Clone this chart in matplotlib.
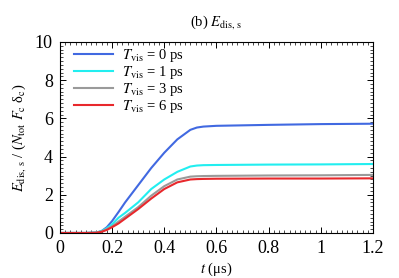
import numpy as np
import matplotlib
matplotlib.use("Agg")
import matplotlib.pyplot as plt
from matplotlib.ticker import MultipleLocator

plt.rcParams['font.family'] = 'serif'
plt.rcParams['font.serif'] = ['Liberation Serif', 'DejaVu Serif']
plt.rcParams['mathtext.fontset'] = 'stix'
plt.rcParams['font.size'] = 10

# time (us) and dissipated energy for each viscous time
t = [0, 0.1, 0.14, 0.16, 0.18, 0.2, 0.225, 0.25, 0.3, 0.35, 0.375, 0.4,
     0.45, 0.5, 0.525, 0.55, 0.6, 0.8, 1.0, 1.2]
e_t0 = [0, 0, 0.02, 0.1, 0.3, 0.62, 1.1, 1.6, 2.5, 3.4, 3.8, 4.2,
        4.9, 5.4, 5.52, 5.57, 5.61, 5.66, 5.70, 5.72]
e_t1 = [0, 0, 0.02, 0.1, 0.25, 0.45, 0.8, 1.05, 1.6, 2.3, 2.55, 2.8,
        3.2, 3.48, 3.53, 3.55, 3.56, 3.58, 3.59, 3.61]
e_t3 = [0, 0, 0.02, 0.08, 0.2, 0.35, 0.6, 0.85, 1.35, 1.95, 2.2, 2.45,
        2.8, 2.95, 2.97, 2.98, 2.99, 3.01, 3.02, 3.04]
e_t6 = [0, 0, 0.01, 0.06, 0.16, 0.3, 0.5, 0.75, 1.25, 1.8, 2.05, 2.3,
        2.65, 2.8, 2.82, 2.83, 2.84, 2.85, 2.85, 2.86]
labels = [r"$T_{\rm vis}$ = 0 ps", r"$T_{\rm vis}$ = 1 ps",
          r"$T_{\rm vis}$ = 3 ps", r"$T_{\rm vis}$ = 6 ps"]
colors = ['#4169e1', '#22eef0', '#9a9a9a', '#e8282c']

fig = plt.figure(figsize=(3.99, 2.78), dpi=100)
ax = fig.add_axes([0.150, 0.162, 0.785, 0.687])

for y, lab, c in zip([e_t0, e_t1, e_t3, e_t6], labels, colors):
    ax.plot(t, y, color=c, lw=1.5, label=lab)

ax.set_xlim(0, 1.2)
ax.set_ylim(0, 10)
ax.xaxis.set_minor_locator(MultipleLocator(0.02))
ax.yaxis.set_major_locator(MultipleLocator(2))
ax.yaxis.set_minor_locator(MultipleLocator(0.2))
ax.set_xticks([0, 0.2, 0.4, 0.6, 0.8, 1.0, 1.2])
ax.set_xticklabels(['0', '0.2', '0.4', '0.6', '0.8', '1', '1.2'])
ax.tick_params(which='both', direction='in', top=True, right=True, labelsize=13)
ax.tick_params(which='major', length=4.5, width=0.7, pad=5)
ax.tick_params(which='minor', length=2, width=0.5)
for s in ax.spines.values():
    s.set_linewidth(0.8)

ax.set_xlabel(r"$t$ (μs)", fontsize=10.5, labelpad=3)
ax.set_ylabel(r"$E_{\rm dis,\,s}$ / ($N_{\rm tot}$ $F_{\rm c}$ δ$_{\rm c}$)",
              fontsize=10.5, labelpad=5)
ax.set_title(r"(b) $E_{\rm dis,\,s}$", fontsize=10.5, pad=12)

ax.legend(loc='upper left', frameon=False, handlelength=2.7, handletextpad=0.6,
          labelspacing=0.0, borderaxespad=0.0, borderpad=0.2,
          bbox_to_anchor=(0.035, 0.99), fontsize=10.5)

fig.savefig("out.png", dpi=100)
